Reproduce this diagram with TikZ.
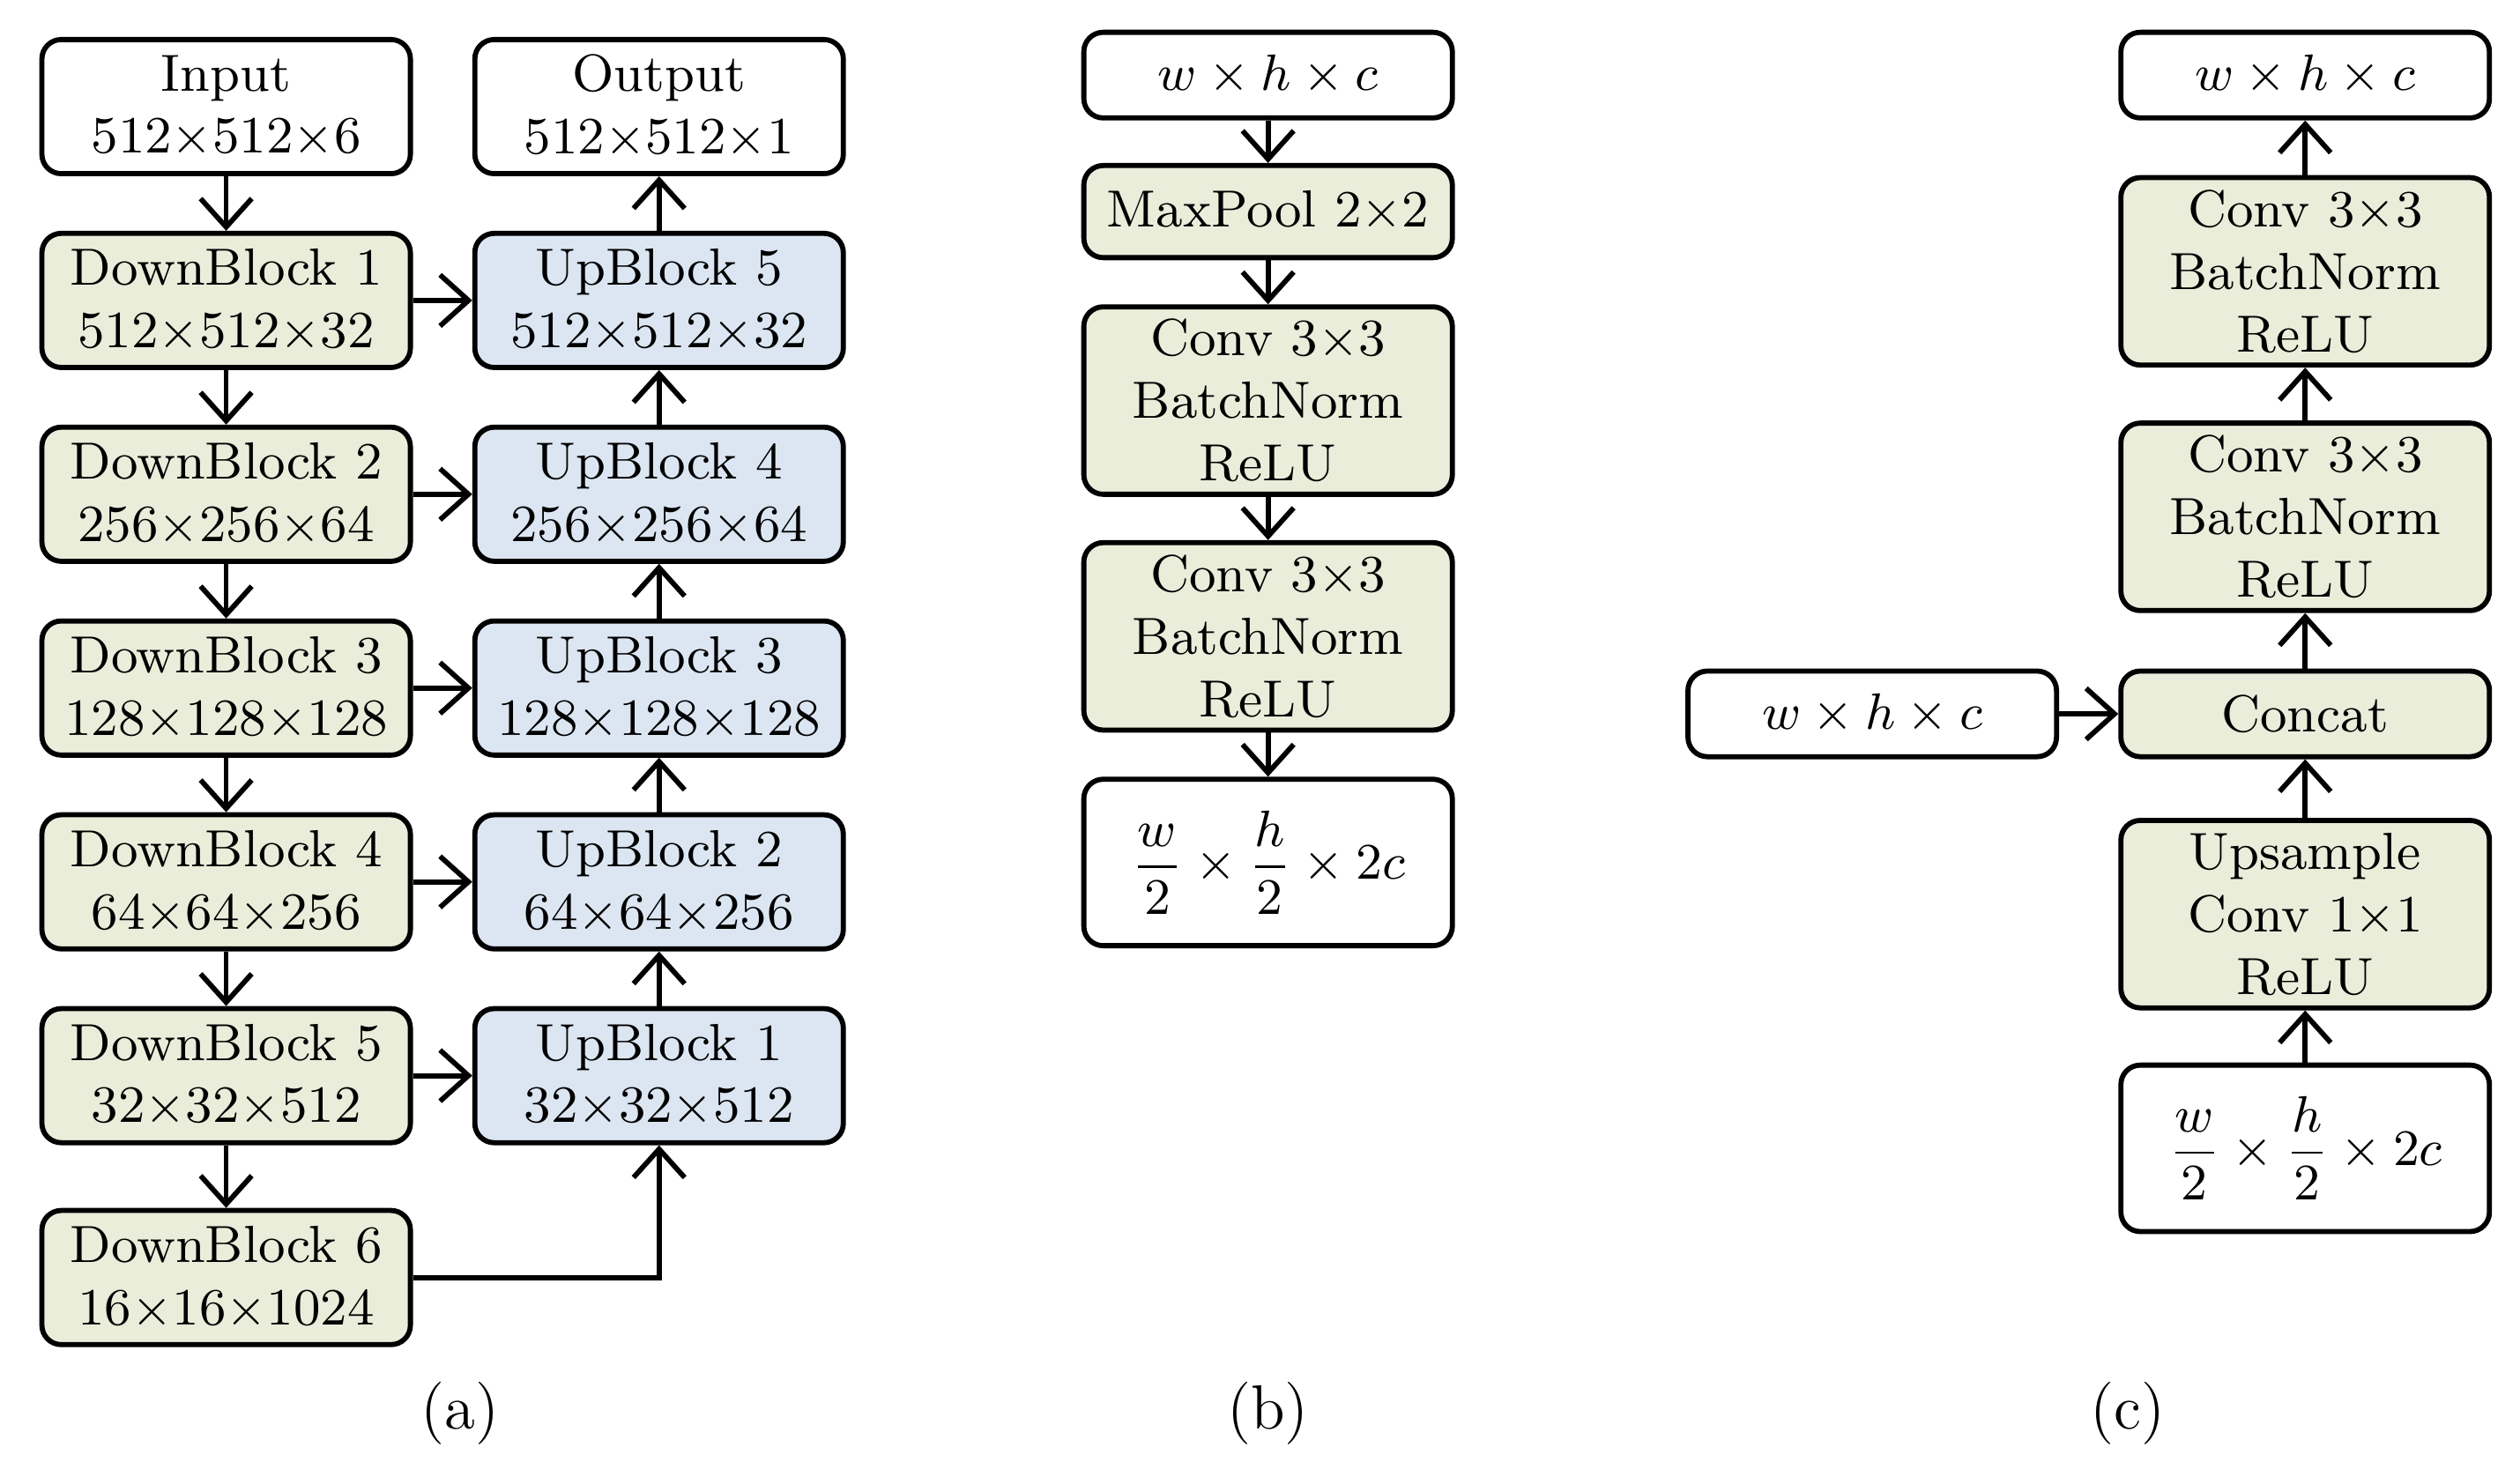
\documentclass[tikz,border=0pt]{standalone}
\usetikzlibrary{arrows.meta}
\definecolor{gfill}{RGB}{233,237,218}
\definecolor{bfill}{RGB}{220,230,242}
\begin{document}
\begin{tikzpicture}[x=0.01cm,y=-0.01cm,
 bx/.style={draw,line width=0.9pt,rounded corners=0.12cm,minimum width=2.28cm,align=center,inner sep=0pt,font=\fontsize{9.2}{11}\selectfont},
 g/.style={bx,fill=gfill},
 b/.style={bx,fill=bfill},
 w/.style={bx,fill=white},
 ar/.style={line width=0.9pt,-{Straight Barb[length=5pt,width=9pt]}}]
\useasboundingbox (0,0) rectangle (1560,905);
\tikzset{h83/.style={minimum height=0.83cm},h53/.style={minimum height=0.53cm},h116/.style={minimum height=1.16cm},h103/.style={minimum height=1.03cm}}
% (a)
\node[w,h83] (in) at (140,66) {Input\\512$\times$512$\times$6};
\node[g,h83] (d1) at (140,186) {DownBlock 1\\512$\times$512$\times$32};
\node[g,h83] (d2) at (140,306) {DownBlock 2\\256$\times$256$\times$64};
\node[g,h83] (d3) at (140,426) {DownBlock 3\\128$\times$128$\times$128};
\node[g,h83] (d4) at (140,546) {DownBlock 4\\64$\times$64$\times$256};
\node[g,h83] (d5) at (140,666) {DownBlock 5\\32$\times$32$\times$512};
\node[g,h83] (d6) at (140,791) {DownBlock 6\\16$\times$16$\times$1024};
\node[w,h83] (out) at (408,66) {Output\\512$\times$512$\times$1};
\node[b,h83] (u5) at (408,186) {UpBlock 5\\512$\times$512$\times$32};
\node[b,h83] (u4) at (408,306) {UpBlock 4\\256$\times$256$\times$64};
\node[b,h83] (u3) at (408,426) {UpBlock 3\\128$\times$128$\times$128};
\node[b,h83] (u2) at (408,546) {UpBlock 2\\64$\times$64$\times$256};
\node[b,h83] (u1) at (408,666) {UpBlock 1\\32$\times$32$\times$512};
\foreach \a/\b in {in/d1,d1/d2,d2/d3,d3/d4,d4/d5,d5/d6} \draw[ar] (\a) -- (\b);
\foreach \a/\b in {u1/u2,u2/u3,u3/u4,u4/u5,u5/out} \draw[ar] (\a) -- (\b);
\foreach \a/\b in {d1/u5,d2/u4,d3/u3,d4/u2,d5/u1} \draw[ar] (\a) -- (\b);
\draw[ar] (d6.east) -| (u1.south);
\node[font=\fontsize{11}{13}\selectfont] (la) at (285,875) {(a)};
% (b)
\node[w,h53] (b0) at (785,46.5) {$w\times h\times c$};
\node[g,minimum height=0.57cm] (b1) at (785,131) {MaxPool 2$\times$2};
\node[g,h116] (b2) at (785,248) {Conv 3$\times$3\\BatchNorm\\ReLU};
\node[g,h116] (b3) at (785,394) {Conv 3$\times$3\\BatchNorm\\ReLU};
\node[w,h103] (b4) at (785,534) {$\displaystyle\frac{w}{2}\times\frac{h}{2}\times 2c$};
\foreach \a/\b in {b0/b1,b1/b2,b2/b3,b3/b4} \draw[ar] (\a) -- (\b);
\node[font=\fontsize{11}{13}\selectfont] (lb) at (785,875) {(b)};
% (c)
\node[w,h53] (c0) at (1427,46.5) {$w\times h\times c$};
\node[g,h116] (c1) at (1427,168) {Conv 3$\times$3\\BatchNorm\\ReLU};
\node[g,h116] (c2) at (1427,320) {Conv 3$\times$3\\BatchNorm\\ReLU};
\node[g,h53] (c3) at (1427,442) {Concat};
\node[g,h116] (c4) at (1427,566) {Upsample\\Conv 1$\times$1\\ReLU};
\node[w,h103] (c5) at (1427,711) {$\displaystyle\frac{w}{2}\times\frac{h}{2}\times 2c$};
\node[w,h53] (cl) at (1159,442) {$w\times h\times c$};
\foreach \a/\b in {c5/c4,c4/c3,c3/c2,c2/c1,c1/c0,cl/c3} \draw[ar] (\a) -- (\b);
\node[font=\fontsize{11}{13}\selectfont] (lc) at (1317,875) {(c)};
\end{tikzpicture}
\end{document}
